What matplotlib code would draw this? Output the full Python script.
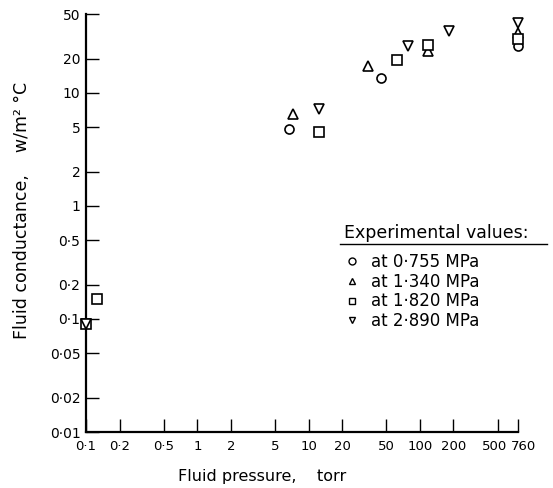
import matplotlib
matplotlib.use("Agg")
import matplotlib.pyplot as plt
from matplotlib.lines import Line2D
from matplotlib.transforms import ScaledTranslation

# Data (fluid pressure in torr, conductance in W/m2 C)
p_0755 = [6.6, 45, 760]
c_0755 = [4.8, 13.5, 26]
p_1340 = [7.3, 34, 118, 760]
c_1340 = [6.5, 17.4, 23.5, 34]
p_1820 = [0.1, 0.125, 12.3, 62, 118, 760]
c_1820 = [0.09, 0.15, 4.5, 19.6, 26.5, 30]
p_2890 = [0.1, 12.3, 78, 182, 760]
c_2890 = [0.09, 7.2, 26, 35.3, 42]

series_labels = ["at 0·755 MPa", "at 1·340 MPa", "at 1·820 MPa", "at 2·890 MPa"]
markers = ["o", "^", "s", "v"]

xticks = [0.1, 0.2, 0.5, 1, 2, 5, 10, 20, 50, 100, 200, 500, 760]
xticklabels = ["0·1", "0·2", "0·5", "1", "2", "5", "10", "20", "50", "100", "200", "500", "760"]
yticks = [0.01, 0.02, 0.05, 0.1, 0.2, 0.5, 1, 2, 5, 10, 20, 50]
yticklabels = ["0·01", "0·02", "0·05", "0·1", "0·2", "0·5", "1", "2", "5", "10", "20", "50"]

plt.rcParams['font.family'] = ['DejaVu Sans']

fig = plt.figure(figsize=(5.53, 4.88), dpi=100)
ax = fig.add_axes([86/553, 1-432/488, 432/553, 418/488])

data = [(p_0755, c_0755), (p_1340, c_1340), (p_1820, c_1820), (p_2890, c_2890)]
handles = []
for (x, y), m, lab in zip(data, markers, series_labels):
    ax.plot(x, y, linestyle="none", marker=m, markersize=6.5, markerfacecolor="white",
            markeredgecolor="black", markeredgewidth=1.2, clip_on=False, zorder=3)
    handles.append(Line2D([], [], linestyle="none", marker=m, markersize=5,
                          markerfacecolor="white", markeredgecolor="black",
                          markeredgewidth=1.0, label=lab))

ax.set_xscale("log")
ax.set_yscale("log")
ax.set_xlim(0.1, 760)
ax.set_ylim(0.01, 50)
ax.minorticks_off()
ax.set_xticks(xticks)
ax.set_xticklabels(xticklabels)
ax.set_yticks(yticks)
ax.set_yticklabels(yticklabels)
ax.tick_params(direction="in", length=9.5, width=1.0, color="black")
ax.tick_params(axis="x", labelsize=9.5, pad=6)
ax.tick_params(axis="y", labelsize=10, pad=4)
for s in ["top", "right"]:
    ax.spines[s].set_visible(False)
for s in ["left", "bottom"]:
    ax.spines[s].set_linewidth(1.6)

# nudge the two crowded labels at the right end apart
xl = ax.get_xticklabels()
xl[-1].set_transform(xl[-1].get_transform() + ScaledTranslation(5/100, 0, fig.dpi_scale_trans))
xl[-2].set_transform(xl[-2].get_transform() + ScaledTranslation(-3/100, 0, fig.dpi_scale_trans))

fig.text(22/553, 1-210/488, "Fluid conductance,    w/m² °C", rotation=90,
         ha="center", va="center", fontsize=12.5)
fig.text(262/553, 1-476/488, "Fluid pressure,    torr", ha="center", va="center", fontsize=11.5)

leg = ax.legend(handles=handles, loc="upper left", bbox_to_anchor=(344/553, 1-224/488),
                bbox_transform=fig.transFigure, frameon=False, fontsize=12,
                title="Experimental values:", title_fontsize=12.5, alignment="left",
                handletextpad=0.6, labelspacing=0.1, handlelength=1.0,
                borderpad=0, borderaxespad=0)
leg._legend_box.sep = 8
fig.add_artist(Line2D([340/553, 547/553], [1-244/488, 1-244/488], color="black",
                      linewidth=1.0, transform=fig.transFigure))

fig.savefig("out.png", dpi=100)
